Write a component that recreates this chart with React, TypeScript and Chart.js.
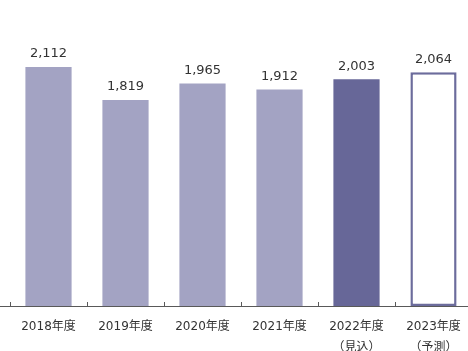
import React, { useEffect, useRef } from "react";
import { Chart, registerables } from "chart.js";

Chart.register(...registerables);

const categories: (string | string[])[] = [
  "",
  "2018年度",
  "2019年度",
  "2020年度",
  "2021年度",
  ["2022年度", "（見込）"],
  ["2023年度", "（予測）"],
];
const values: (number | null)[] = [null, 2112, 1819, 1965, 1912, 2003, 2064];
const fillColors = ["#A3A3C3", "#A3A3C3", "#A3A3C3", "#A3A3C3", "#A3A3C3", "#676798", "#FFFFFF"];
const edgeColors = ["#A3A3C3", "#A3A3C3", "#A3A3C3", "#A3A3C3", "#A3A3C3", "#676798", "#6C6C9C"];
const edgeWidths = [0, 0, 0, 0, 0, 0, 2.5];

const FONT = "'DejaVu Sans', 'Noto Sans CJK JP', sans-serif";

const valueLabels = {
  id: "valueLabels",
  afterDatasetsDraw(chart: any) {
    const ctx = chart.ctx;
    const meta = chart.getDatasetMeta(0);
    ctx.save();
    ctx.font = `13px ${FONT}`;
    ctx.fillStyle = "#333333";
    ctx.textAlign = "center";
    ctx.textBaseline = "middle";
    meta.data.forEach((el: any, i: number) => {
      const v = values[i];
      if (v == null) return;
      ctx.fillText(v.toLocaleString("en-US"), el.x, el.y - 13);
    });
    ctx.restore();
  },
};

const upTicks = {
  id: "upTicks",
  afterDraw(chart: any) {
    const ctx = chart.ctx;
    const xs = chart.scales.x;
    const bottom = chart.chartArea.bottom;
    ctx.save();
    ctx.strokeStyle = "#595959";
    ctx.lineWidth = 1;
    for (let i = 1; i < categories.length; i++) {
      const px = Math.round((xs.getPixelForValue(i - 1) + xs.getPixelForValue(i)) / 2) + 0.5;
      ctx.beginPath();
      ctx.moveTo(px, bottom);
      ctx.lineTo(px, bottom - 4);
      ctx.stroke();
    }
    ctx.restore();
  },
};

export default function App() {
  const ref = useRef<HTMLCanvasElement | null>(null);
  useEffect(() => {
    if (!ref.current) return;
    const chart = new Chart(ref.current, {
      type: "bar",
      data: {
        labels: categories,
        datasets: [
          {
            data: values,
            backgroundColor: fillColors,
            borderColor: edgeColors,
            borderWidth: edgeWidths,
            borderSkipped: false,
            barPercentage: 0.6,
            categoryPercentage: 1,
          },
        ],
      },
      options: {
        animation: false,
        responsive: false,
        maintainAspectRatio: false,
        layout: { padding: { top: 23, left: 0, right: 0, bottom: 0 } },
        plugins: { legend: { display: false }, tooltip: { enabled: false } },
        scales: {
          x: {
            offset: true,
            grid: { display: false, drawTicks: false },
            border: { display: true, color: "#595959", width: 1 },
            ticks: {
              color: "#333333",
              padding: 10,
              maxRotation: 0,
              autoSkip: false,
              font: { family: FONT, size: 12, lineHeight: 1.75 },
            },
            afterFit(scale: any) {
              scale.height = 45;
            },
          },
          y: { display: false, min: 0, max: 2500 },
        },
      },
      plugins: [valueLabels, upTicks],
    });
    return () => chart.destroy();
  }, []);
  return (
    <div style={{ position: "fixed", left: -67, top: 0, width: 539, height: 351 }}>
      <canvas ref={ref} width={539} height={351} style={{ width: 539, height: 351 }} />
    </div>
  );
}
